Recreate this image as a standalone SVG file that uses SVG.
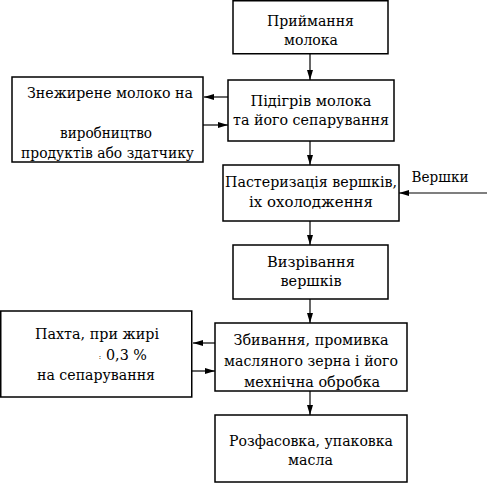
<svg xmlns="http://www.w3.org/2000/svg" width="487" height="483" viewBox="0 0 487 483">
<style>
.box{fill:#fff;stroke:#000;stroke-width:1.5}
.t{font-family:'DejaVu Serif','Liberation Serif',serif;font-size:15.5px;fill:#000;text-anchor:middle}
.c{stroke:#000;stroke-width:1.2;fill:none;marker-end:url(#ah)}
</style>
<defs>
<marker id="ah" viewBox="0 0 10 6" refX="10" refY="3" markerWidth="10" markerHeight="6" markerUnits="userSpaceOnUse" orient="auto">
<path d="M0,0 L10,3 L0,6 Z" fill="#000"/>
</marker>
</defs>
<rect width="487" height="483" fill="#fff"/>
<g id="connectors">
<line class="c" x1="310" y1="54" x2="310" y2="80"/>
<line class="c" x1="228" y1="97" x2="204" y2="97"/>
<line class="c" x1="203" y1="125" x2="228" y2="125"/>
<line class="c" x1="310" y1="141" x2="310" y2="165"/>
<line class="c" x1="487" y1="193" x2="399" y2="193"/>
<line class="c" x1="310" y1="221" x2="310" y2="245"/>
<line class="c" x1="310" y1="299" x2="310" y2="323"/>
<line class="c" x1="215" y1="343" x2="193" y2="343"/>
<line class="c" x1="192" y1="371" x2="215" y2="371"/>
<line class="c" x1="310" y1="391" x2="310" y2="415"/>
</g>
<g id="n1">
<rect class="box" x="233" y="0.75" width="155" height="53"/>
<text class="t" x="310.5" y="26" textLength="87" lengthAdjust="spacingAndGlyphs">Приймання</text>
<text class="t" x="311" y="45" textLength="54" lengthAdjust="spacingAndGlyphs">молока</text>
</g>
<g id="n2">
<rect class="box" x="228" y="80" width="166" height="61"/>
<text class="t" x="311" y="106" textLength="121" lengthAdjust="spacingAndGlyphs">Підігрів молока</text>
<text class="t" x="311" y="125" textLength="156" lengthAdjust="spacingAndGlyphs">та його сепарування</text>
</g>
<g id="n3">
<rect class="box" x="12" y="77" width="191" height="85"/>
<text class="t" x="110" y="98" textLength="166" lengthAdjust="spacingAndGlyphs">Знежирене молоко на</text>
<text class="t" x="106" y="138" textLength="92" lengthAdjust="spacingAndGlyphs">виробництво</text>
<text class="t" x="107.5" y="158" textLength="173" lengthAdjust="spacingAndGlyphs">продуктів або здатчику</text>
</g>
<g id="n4">
<rect class="box" x="223" y="165" width="176" height="56"/>
<text class="t" x="311" y="187" textLength="172" lengthAdjust="spacingAndGlyphs">Пастеризація вершків,</text>
<text class="t" x="311" y="207" textLength="124" lengthAdjust="spacingAndGlyphs">іх охолодження</text>
</g>
<g id="n5">
<text class="t" x="440" y="182" textLength="57" lengthAdjust="spacingAndGlyphs">Вершки</text>
</g>
<g id="n6">
<rect class="box" x="233" y="245" width="155" height="54"/>
<text class="t" x="311" y="267" textLength="88" lengthAdjust="spacingAndGlyphs">Визрівання</text>
<text class="t" x="311" y="286" textLength="61" lengthAdjust="spacingAndGlyphs">вершків</text>
</g>
<g id="n7">
<rect class="box" x="215" y="323" width="192" height="68"/>
<text class="t" x="311" y="345" textLength="155" lengthAdjust="spacingAndGlyphs">Збивання, промивка</text>
<text class="t" x="311" y="366" textLength="174" lengthAdjust="spacingAndGlyphs">масляного зерна і його</text>
<text class="t" x="312" y="387" textLength="136" lengthAdjust="spacingAndGlyphs">мехнічна обробка</text>
</g>
<g id="n8">
<rect class="box" x="0.75" y="311" width="191" height="86"/>
<text class="t" x="97" y="339" textLength="124" lengthAdjust="spacingAndGlyphs">Пахта, при жирі</text>
<text class="t" x="100" y="359" style="font-size:7px">:</text>
<text class="t" x="126.5" y="360" textLength="41" lengthAdjust="spacingAndGlyphs">0,3 %</text>
<text class="t" x="96" y="380" textLength="118" lengthAdjust="spacingAndGlyphs">на сепарування</text>
</g>
<g id="n9">
<rect class="box" x="215" y="415" width="192" height="67"/>
<text class="t" x="311" y="446" textLength="164" lengthAdjust="spacingAndGlyphs">Розфасовка, упаковка</text>
<text class="t" x="310.5" y="465" textLength="45" lengthAdjust="spacingAndGlyphs">масла</text>
</g>
</svg>
